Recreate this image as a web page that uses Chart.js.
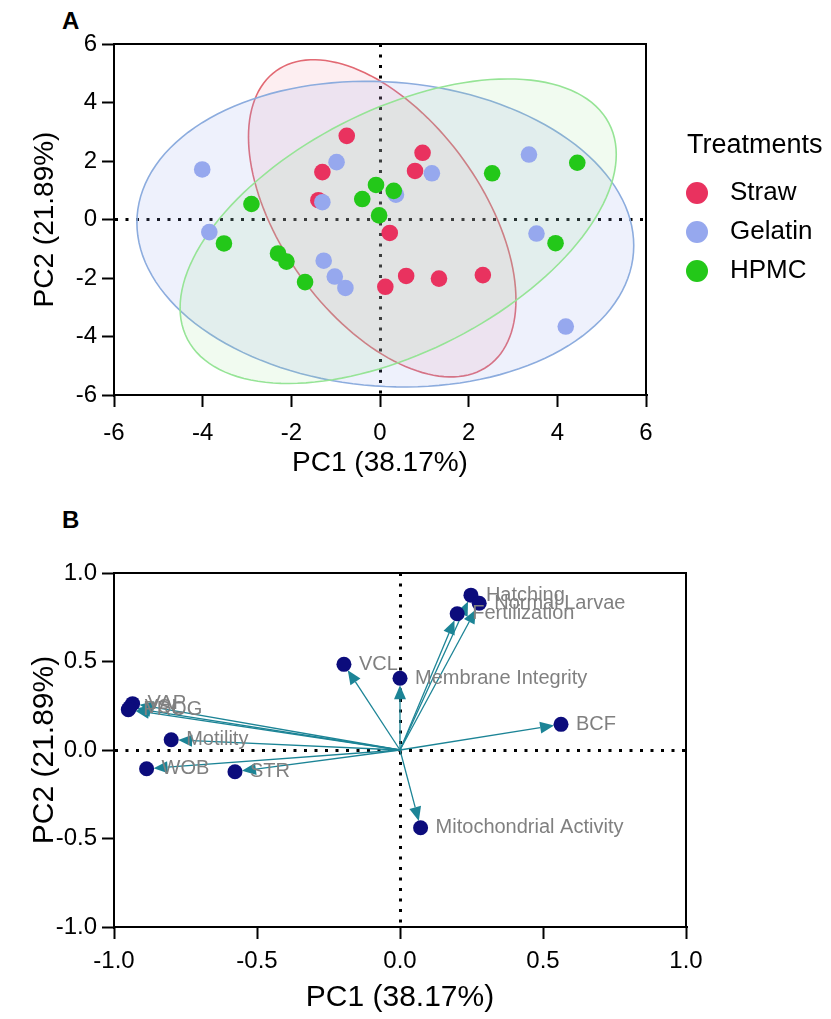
<!DOCTYPE html>
<html>
<head>
<meta charset="utf-8">
<script src="https://cdn.jsdelivr.net/npm/chart.js@4.4.1/dist/chart.umd.min.js"></script>
<style>
  html, body { margin: 0; padding: 0; background: #fff; }
  body { width: 831px; height: 1019px; position: relative; overflow: hidden; font-family: Arial, "Liberation Sans", sans-serif; }
  .panel { position: absolute; left: 0; width: 831px; }
  #boxA { top: 0; height: 490px; }
  #boxB { top: 490px; height: 529px; }
  .tag { position: absolute; left: 62px; font-weight: bold; font-size: 24px; line-height: 28px; }
</style>
</head>
<body>
<div class="tag" style="top:7px">A</div>
<div class="tag" style="top:506px">B</div>
<div class="panel" id="boxA"><canvas id="pcaScores"></canvas></div>
<div class="panel" id="boxB"><canvas id="pcaLoadings"></canvas></div>
<script>
// ------------------ data: score plot (A) ------------------
const groupNames = ['Straw', 'Gelatin', 'HPMC'];
const strawPC1 = [-0.75, 0.96, -1.30, 0.79, -1.39, 0.22, 0.59, 1.33, 2.32, 0.12];
const strawPC2 = [2.86, 2.28, 1.62, 1.66, 0.66, -0.46, -1.93, -2.02, -1.90, -2.30];
const gelatinPC1 = [-4.01, -0.98, 1.17, -1.30, 0.36, 3.36, -3.85, -1.27, -1.02, -0.78, 3.53, 4.19];
const gelatinPC2 = [1.71, 1.96, 1.58, 0.59, 0.85, 2.22, -0.43, -1.41, -1.95, -2.34, -0.48, -3.66];
const hpmcPC1 = [-2.90, -0.09, 0.31, -0.40, -0.02, 2.53, 4.45, -3.52, -2.30, -2.11, -1.69, 3.96];
const hpmcPC2 = [0.53, 1.18, 0.98, 0.70, 0.14, 1.58, 1.94, -0.82, -1.16, -1.44, -2.14, -0.81];
// confidence ellipses: centre, then [var PC1, var PC2, cov]
const ellipseCentre = [[0.05, 0.04], [0.12, -0.50], [0.41, -0.40]];
const ellipseSpread = [[9.1, 29.4, -8.4], [31.4, 27.3, -2.2], [24.2, 27.1, 12.9]];
const ticksA = [-6, -4, -2, 0, 2, 4, 6];

// ------------------ data: loading plot (B) ------------------
const varNames = ['Hatching', 'Normal Larvae', 'Fertilization', 'Membrane Integrity', 'VCL', 'BCF',
  'Mitochondrial Activity', 'VAP', 'VSL', 'PROG', 'Motility', 'WOB', 'STR'];
const pc1Load = [0.248, 0.277, 0.200, 0.000, -0.196, 0.563, 0.072, -0.935, -0.945, -0.950, -0.800, -0.886, -0.577];
const pc2Load = [0.875, 0.829, 0.770, 0.405, 0.484, 0.145, -0.439, 0.262, 0.240, 0.228, 0.058, -0.106, -0.123];
const ticksB = [-1, -0.5, 0, 0.5, 1];

const FONT = 'Arial, "Liberation Sans", sans-serif';
Chart.defaults.font.family = FONT;
Chart.defaults.color = '#000';

const pointColours = ['rgb(233,50,95)', 'rgb(150,168,238)', 'rgb(35,200,25)'];
const edgeColours = ['rgb(226,105,115)', 'rgb(140,172,222)', 'rgb(150,228,150)'];
const fillColours = ['rgba(238,120,150,0.13)', 'rgba(150,170,235,0.16)', 'rgba(140,225,130,0.12)'];

const zeroOnly = c => (c.tick && c.tick.value === 0 ? '#000' : 'rgba(0,0,0,0)');

// axis settings shared by both panels
function axis(tickList, title, o) {
  return {
    type: 'linear',
    min: tickList[0],
    max: tickList[tickList.length - 1],
    afterBuildTicks: s => { s.ticks = tickList.map(v => ({ value: v })); },
    afterFit: o.fit,
    grid: { color: zeroOnly, lineWidth: 3, tickColor: '#000', tickLength: 12, tickWidth: 2 },
    border: { color: '#000', width: 2, dash: [3, 7.5] },
    ticks: { color: '#000', font: { size: 24 }, padding: o.tickPad, callback: o.fmt || (v => String(v)) },
    title: { display: true, text: title, color: '#000', font: { size: o.titleSize }, padding: o.titlePad }
  };
}

// box round the plot area
const frame = {
  id: 'frame',
  beforeDatasetsDraw(chart) {
    const { ctx, chartArea: a } = chart;
    ctx.save();
    ctx.strokeStyle = '#000';
    ctx.lineWidth = 2;
    ctx.strokeRect(a.left, a.top, a.right - a.left, a.bottom - a.top);
    ctx.restore();
  }
};

// ------------------ A: scores with ellipses ------------------
const ellipses = {
  id: 'ellipses',
  beforeDatasetsDraw(chart) {
    const { ctx, scales: { x, y } } = chart;
    ellipseCentre.forEach((c, i) => {
      const [vx, vy, cxy] = ellipseSpread[i];
      const a = Math.sqrt(vx), b = cxy / a, d = Math.sqrt(vy - b * b);
      ctx.save();
      ctx.beginPath();
      for (let k = 0; k <= 144; k++) {
        const t = k / 144 * 2 * Math.PI;
        const px = x.getPixelForValue(c[0] + a * Math.cos(t));
        const py = y.getPixelForValue(c[1] + b * Math.cos(t) + d * Math.sin(t));
        if (k === 0) ctx.moveTo(px, py); else ctx.lineTo(px, py);
      }
      ctx.closePath();
      ctx.fillStyle = fillColours[i];
      ctx.fill();
      ctx.strokeStyle = edgeColours[i];
      ctx.lineWidth = 1.6;
      ctx.stroke();
      ctx.restore();
    });
  }
};

const sideLegend = {
  id: 'sideLegend',
  afterDraw(chart) {
    const { ctx, chartArea } = chart;
    const lx = chartArea.right + 41;
    ctx.save();
    ctx.textBaseline = 'middle';
    ctx.textAlign = 'left';
    ctx.fillStyle = '#000';
    ctx.font = '27px ' + FONT;
    ctx.fillText('Treatments', lx, 146);
    ctx.font = '26px ' + FONT;
    groupNames.forEach((n, i) => {
      const yy = 193 + i * 39;
      ctx.beginPath();
      ctx.arc(lx + 10, yy, 11, 0, 2 * Math.PI);
      ctx.fillStyle = pointColours[i];
      ctx.fill();
      ctx.fillStyle = '#000';
      ctx.fillText(n, lx + 43, yy);
    });
    ctx.restore();
  }
};

const toXY = (xs, ys) => xs.map((v, i) => ({ x: v, y: ys[i] }));
const scoreSets = [toXY(strawPC1, strawPC2), toXY(gelatinPC1, gelatinPC2), toXY(hpmcPC1, hpmcPC2)];

new Chart(document.getElementById('pcaScores'), {
  type: 'scatter',
  data: {
    datasets: groupNames.map((n, i) => ({
      label: n,
      data: scoreSets[i],
      backgroundColor: pointColours[i],
      borderWidth: 0,
      pointRadius: 8.3,
      pointHoverRadius: 8.3,
      order: 3 - i
    }))
  },
  options: {
    responsive: true,
    maintainAspectRatio: false,
    animation: false,
    layout: { padding: { top: 44, right: 185, left: 0, bottom: 0 } },
    plugins: { legend: { display: false }, tooltip: { enabled: false } },
    scales: {
      x: axis(ticksA, 'PC1 (38.17%)', { fit: s => { s.height = 95; }, tickPad: 12, titleSize: 28, titlePad: { bottom: 10 } }),
      y: axis(ticksA, 'PC2 (21.89%)', { fit: s => { s.width = 114; }, tickPad: 5, titleSize: 28, titlePad: { top: 28 } })
    }
  },
  plugins: [frame, ellipses, sideLegend]
});

// ------------------ B: loadings with arrows ------------------
const arrowColour = 'rgb(28,132,150)';

const loadingArrows = {
  id: 'loadingArrows',
  beforeDatasetsDraw(chart) {
    const { ctx, scales: { x, y } } = chart;
    const ox = x.getPixelForValue(0), oy = y.getPixelForValue(0);
    ctx.save();
    ctx.strokeStyle = arrowColour;
    ctx.fillStyle = arrowColour;
    ctx.lineWidth = 1.3;
    pc1Load.forEach((v, i) => {
      const px = x.getPixelForValue(v), py = y.getPixelForValue(pc2Load[i]);
      const ang = Math.atan2(py - oy, px - ox);
      const len = Math.hypot(px - ox, py - oy) - 7;
      const cs = Math.cos(ang), sn = Math.sin(ang);
      const tx = ox + len * cs, ty = oy + len * sn;
      const bx = tx - 14 * cs, by = ty - 14 * sn;
      ctx.beginPath();
      ctx.moveTo(ox, oy);
      ctx.lineTo(bx, by);
      ctx.stroke();
      ctx.beginPath();
      ctx.moveTo(tx, ty);
      ctx.lineTo(bx - 6 * sn, by + 6 * cs);
      ctx.lineTo(bx + 6 * sn, by - 6 * cs);
      ctx.closePath();
      ctx.fill();
    });
    ctx.restore();
  }
};

const loadingLabels = {
  id: 'loadingLabels',
  afterDatasetsDraw(chart) {
    const { ctx, scales: { x, y } } = chart;
    ctx.save();
    ctx.font = '20px ' + FONT;
    ctx.fillStyle = '#808080';
    ctx.textBaseline = 'middle';
    ctx.textAlign = 'left';
    varNames.forEach((n, i) => {
      ctx.fillText(n, x.getPixelForValue(pc1Load[i]) + 15, y.getPixelForValue(pc2Load[i]));
    });
    ctx.restore();
  }
};

new Chart(document.getElementById('pcaLoadings'), {
  type: 'scatter',
  data: {
    datasets: [{
      label: 'Loadings',
      data: toXY(pc1Load, pc2Load),
      backgroundColor: '#0c0c7c',
      borderWidth: 0,
      pointRadius: 7.5,
      pointHoverRadius: 7.5
    }]
  },
  options: {
    responsive: true,
    maintainAspectRatio: false,
    animation: false,
    layout: { padding: { top: 83, right: 145, left: 0, bottom: 0 } },
    plugins: { legend: { display: false }, tooltip: { enabled: false } },
    scales: {
      x: axis(ticksB, 'PC1 (38.17%)', { fit: s => { s.height = 92; }, tickPad: 8, titleSize: 30, titlePad: { bottom: 3 }, fmt: v => v.toFixed(1) }),
      y: axis(ticksB, 'PC2 (21.89%)', { fit: s => { s.width = 114; }, tickPad: 5, titleSize: 30, titlePad: { top: 27 }, fmt: v => v.toFixed(1) })
    }
  },
  plugins: [frame, loadingArrows, loadingLabels]
});
</script>
</body>
</html>
